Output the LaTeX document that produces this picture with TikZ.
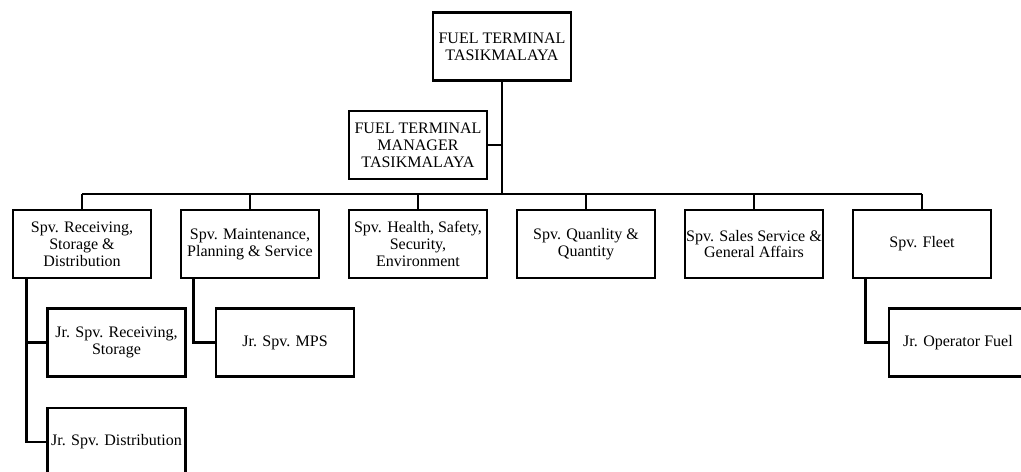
\documentclass[tikz,border=0pt]{standalone}
\usepackage{fontspec}
\setmainfont{Liberation Serif}
\usetikzlibrary{calc}
\tikzset{box/.style={draw,line width=1.7pt,minimum width=3.45cm,minimum height=1.7cm,align=center,inner sep=1pt,font=\fontsize{11.4}{12}\selectfont},
	link/.style={line width=1.9pt}}

\begin{document}
\begin{tikzpicture}[x=0.025cm,y=-0.025cm]
	\useasboundingbox(0,0)rectangle(1021,472);
	\node[box](ft)at(502,46.5){FUEL TERMINAL\\TASIKMALAYA};
	\node[box](mgr)at(418,145){FUEL TERMINAL\\MANAGER\\TASIKMALAYA};
	\node[box](s1)at(82,244){Spv. Receiving,\\Storage \&\\Distribution};
	\node[box](s2)at(250,244){Spv. Maintenance,\\Planning \& Service};
	\node[box](s3)at(418,244){Spv. Health, Safety,\\Security,\\Environment};
	\node[box](s4)at(586,244){Spv. Quanlity \&\\Quantity};
	\node[box](s5)at(754,244){Spv. Sales Service \&\\General Affairs};
	\node[box](s6)at(922,244){Spv. Fleet};
	\node[box](j1)at(116.5,342.5){Jr. Spv. Receiving,\\Storage};
	\node[box](j2)at(116.5,442){Jr. Spv. Distribution};
	\node[box](j3)at(285,342.5){Jr. Spv. MPS};
	\node[box](j4)at(958,342.5){Jr. Operator Fuel};
	\coordinate(bus)at(502,194);
	\draw[link](ft)--(bus);
	\draw[link](mgr.east)--(mgr.east-|bus);
	\draw[link](s1.north|-bus)--(s6.north|-bus);
	\foreach \n in {s1,s2,s3,s4,s5,s6}
		\draw[link](\n.north)--(\n.north|-bus);
	\draw[link]($(s1.south west)+(15,0)$)|-(j1.west);
	\draw[link]($(s1.south west)+(15,0)$)|-(j2.west);
	\draw[link]($(s2.south west)+(14,0)$)|-(j3.west);
	\draw[link]($(s6.south west)+(14,0)$)|-(j4.west);
\end{tikzpicture}
\end{document}
